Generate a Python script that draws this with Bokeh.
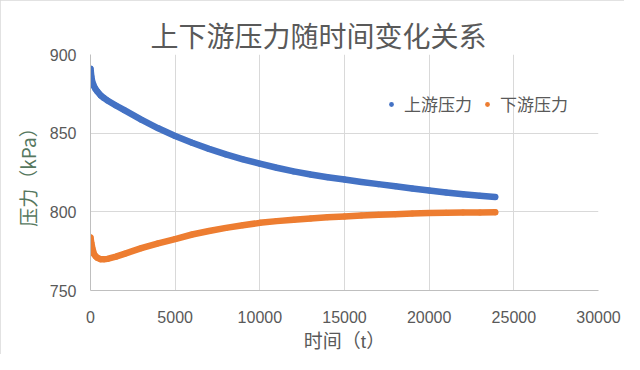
from bokeh.plotting import figure
from bokeh.models import FixedTicker, Title, Legend, LegendItem
from bokeh.embed import file_html
from bokeh.resources import INLINE

# ---- data ----
time_s = [0, 50, 100, 200, 300, 400, 600, 800, 1000, 1500, 2000, 3000, 4000,
          5000, 6000, 7000, 8000, 9000, 10000, 11000, 12000, 13000, 14000,
          15000, 16000, 17000, 18000, 19000, 20000, 21000, 22000, 23000, 23900]
upstream_kpa = [891.0, 886.0, 883.0, 880.0, 878.0, 876.5, 874.0, 872.3, 870.8,
                867.6, 864.6, 858.6, 853.1, 848.2, 843.9, 840.0, 836.5, 833.4,
                830.6, 828.0, 825.7, 823.7, 822.0, 820.5, 819.0, 817.6, 816.2,
                814.8, 813.5, 812.3, 811.2, 810.2, 809.4]
downstream_kpa = [783.7, 780.0, 777.5, 773.3, 771.8, 770.8, 769.9, 769.8, 770.1,
                  771.5, 773.3, 776.9, 780.0, 782.7, 785.6, 787.8, 789.8, 791.5,
                  793.0, 794.1, 795.0, 795.8, 796.5, 797.1, 797.6, 798.1, 798.5,
                  798.9, 799.2, 799.4, 799.5, 799.6, 799.7]
x_ticks = [0, 5000, 10000, 15000, 20000, 25000, 30000]
y_ticks = [750, 800, 850, 900]
title_text = "上下游压力随时间变化关系"
x_label = "时间（t）"
y_label = "压力（kPa）"
series_names = ["上游压力", "下游压力"]
series_colors = ["#4472C4", "#ED7D31"]

CJK = "Noto Sans CJK SC"
MIXED = "'Liberation Sans', 'Noto Sans CJK SC'"
GRAY = "#595959"

p = figure(width=624, height=354, output_backend="svg", toolbar_location=None,
           x_range=(0, 30000), y_range=(750, 900),
           min_border_left=90, min_border_right=26, min_border_bottom=62,
           min_border_top=54)
p.styles = {"outline": "2px solid #d9d9d9", "outline-offset": "-2px"}
p.outline_line_color = None
p.background_fill_color = "white"
p.border_fill_color = "white"

p.title = Title(text=title_text, align="left", offset=60, standoff=0,
                text_font_size="28px", text_font=CJK, text_font_style="normal",
                text_color=GRAY)

for ax, ticks in ((p.xaxis[0], x_ticks), (p.yaxis[0], y_ticks)):
    ax.ticker = FixedTicker(ticks=ticks)
    ax.major_tick_line_color = None
    ax.minor_tick_line_color = None
    ax.axis_line_color = "#bfbfbf"
    ax.axis_line_width = 1
    ax.major_label_text_font = "Liberation Sans"
    ax.major_label_text_font_size = "16px"
    ax.major_label_text_color = GRAY
    ax.axis_label_text_font_size = "19px"
    ax.axis_label_text_font_style = "normal"

p.xaxis.axis_label = x_label
p.xaxis.axis_label_text_font = MIXED
p.xaxis.axis_label_text_color = GRAY
p.xaxis.major_label_standoff = 14
p.xaxis.axis_label_standoff = 5

p.yaxis.axis_label = y_label
p.yaxis.axis_label_text_font = CJK
p.yaxis.axis_label_text_color = "#56775e"
p.yaxis.major_label_standoff = 8
p.yaxis.axis_label_standoff = 6

p.xgrid.ticker = FixedTicker(ticks=x_ticks)
p.ygrid.ticker = FixedTicker(ticks=y_ticks)
p.grid.grid_line_color = "#d9d9d9"
p.grid.grid_line_width = 1

items = []
for vals, name, col in ((upstream_kpa, series_names[0], series_colors[0]),
                        (downstream_kpa, series_names[1], series_colors[1])):
    p.line(time_s, vals, line_width=6.5, line_color=col,
           line_cap="round", line_join="round")
    r = p.scatter(time_s, vals, size=6, fill_color=col, line_color=None)
    items.append(LegendItem(label=name, renderers=[r]))

legend = Legend(items=items, orientation="horizontal", location=(295, 174),
                border_line_color=None, background_fill_alpha=0,
                glyph_width=12, glyph_height=12, label_standoff=7, spacing=9,
                padding=0, margin=0, label_text_font=CJK,
                label_text_font_size="17px", label_text_color=GRAY)
p.add_layout(legend)

open("out.html", "w").write(file_html(p, INLINE))
